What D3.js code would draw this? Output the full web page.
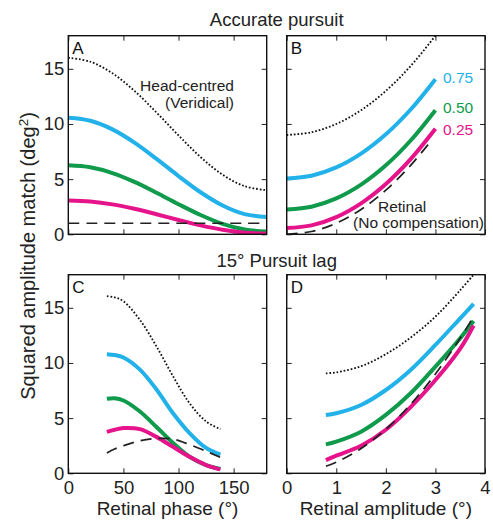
<!DOCTYPE html>
<html>
<head>
<meta charset="utf-8">
<script src="https://cdn.jsdelivr.net/npm/d3@7"></script>
<style>
  body { margin: 0; background: #fff; }
  svg { display: block; }
</style>
</head>
<body>
<div id="chart"></div>
<script>
// --- Data ---
// Panel A (accurate pursuit, vs retinal phase)
const phaseA = [0, 20, 40, 60, 80, 100, 120, 140, 160, 180];
const headA = [16, 15.64, 14.6, 13, 11.04, 8.96, 7, 5.4, 4.36, 4];
const g75A = [10.56, 10.29, 9.51, 8.31, 6.84, 5.28, 3.81, 2.61, 1.83, 1.56];
const g50A = [6.25, 6.07, 5.55, 4.75, 3.77, 2.73, 1.75, 0.95, 0.43, 0.25];
const g25A = [3.06, 2.97, 2.71, 2.31, 1.82, 1.3, 0.81, 0.41, 0.15, 0.06];
const retA = [1, 1, 1, 1, 1, 1, 1, 1, 1, 1];

// Panel B (accurate pursuit, vs retinal amplitude)
const ampB = [0, 0.5, 1, 1.5, 2, 2.5, 3];
const headB = [9, 9.25, 10, 11.25, 13, 15.25, 18];
const g75B = [5.06, 5.31, 6.06, 7.31, 9.06, 11.31, 14.06];
const g50B = [2.25, 2.5, 3.25, 4.5, 6.25, 8.5, 11.25];
const g25B = [0.56, 0.81, 1.56, 2.81, 4.56, 6.81, 9.56];
const ampRetB = [0, 0.5, 1, 1.5, 2, 2.5, 2.9];
const retB = [0, 0.25, 1, 2.25, 4, 6.25, 8.4];

// Panel C (15 deg pursuit lag, vs retinal phase)
const phaseC = [35, 42, 50, 65, 80, 95, 110, 125, 138];
const headC = [16.05, 15.95, 15.6, 13.9, 11.5, 8.8, 6.35, 4.7, 4.0];
const g75C = [10.8, 10.72, 10.5, 9.4, 7.6, 5.45, 3.65, 2.3, 1.7];
const g50C = [6.75, 6.8, 6.6, 5.6, 4.2, 2.75, 1.5, 0.75, 0.4];
const g25C = [3.75, 3.95, 4.1, 4.0, 3.3, 2.4, 1.5, 0.75, 0.35];
const retC = [1.85, 2.2, 2.5, 2.95, 3.15, 3.1, 2.6, 2.0, 1.45];

// Panel D (15 deg pursuit lag, vs retinal amplitude)
const ampD = [0.79, 1, 1.5, 2, 2.5, 3, 3.5, 3.77];
const headD = [9.05, 9.15, 9.7, 10.8, 12.3, 14.2, 16.6, 18];
const g75D = [5.29, 5.44, 6.19, 7.55, 9.37, 11.63, 14.05, 15.35];
const g50D = [2.62, 2.87, 3.77, 5.29, 7.25, 9.67, 12.24, 13.8];
const g25D = [1.2, 1.6, 2.5, 3.95, 6.0, 8.45, 11.3, 13.4];
const retD = [0.64, 1, 2.25, 4, 6.25, 9, 12.25, 14.2];

// Ticks and labels
const phaseTicks = [0, 50, 100, 150];
const ampTicks = [0, 1, 2, 3, 4];
const yTicks = [0, 5, 10, 15];
const gainLabels = ["0.75", "0.50", "0.25"];

// --- Styles ---
const font = "'Liberation Sans', Arial, Helvetica, sans-serif";
const cyan = "#22b2e9", green = "#0f9a4c", magenta = "#e5148b";
const styles = {
    head: { color: "#111", width: 1.8, dash: "1.7,1.9" },
    g75: { color: cyan, width: 4 },
    g50: { color: green, width: 4 },
    g25: { color: magenta, width: 4 },
    ret: { color: "#222", width: 1.7, dash: "11,7" }
};

const W = 493, H = 520;
const svg = d3.select("#chart").append("svg")
    .attr("width", W)
    .attr("height", H)
    .style("font-family", font);

const xPhase = d3.scaleLinear().domain([0, 180]).range([68.3, 266.7]);
const xAmp = d3.scaleLinear().domain([0, 4]).range([286.7, 485]);
const yTop = d3.scaleLinear().domain([0, 18]).range([234.3, 35.7]);
const yBot = d3.scaleLinear().domain([0, 18]).range([473.3, 274.7]);

function drawPanel(x, y, xt, opts) {
    const g = svg.append("g");
    const [x0, x1] = x.range();
    const [y0, y1] = y.range();
    const tick = 5;

    // inward ticks on all four sides
    const left = g.append("g").attr("transform", `translate(${x0},0)`)
        .call(d3.axisLeft(y).tickValues(yTicks).tickSize(-tick).tickPadding(4)
            .tickFormat(opts.yLabels ? d3.format("d") : ""));
    const right = g.append("g").attr("transform", `translate(${x1},0)`)
        .call(d3.axisRight(y).tickValues(yTicks).tickSize(-tick).tickFormat(""));
    const bottom = g.append("g").attr("transform", `translate(0,${y0})`)
        .call(d3.axisBottom(x).tickValues(xt).tickSize(-tick).tickPadding(8)
            .tickFormat(opts.xLabels ? d3.format("d") : ""));
    const top = g.append("g").attr("transform", `translate(0,${y1})`)
        .call(d3.axisTop(x).tickValues(xt).tickSize(-tick).tickFormat(""));

    [left, right, bottom, top].forEach(a => {
        a.select(".domain").remove();
        a.selectAll("line").attr("stroke", "#222").attr("stroke-width", 1);
        a.selectAll("text").attr("font-family", font).attr("font-size", 18.5).attr("fill", "#222");
    });

    // lines
    const clipId = "clip" + opts.letter;
    g.append("clipPath").attr("id", clipId)
        .append("rect").attr("x", x0).attr("y", y1).attr("width", x1 - x0).attr("height", y0 - y1);

    const line = d3.line()
        .x(d => x(d[0]))
        .y(d => y(d[1]))
        .curve(d3.curveCatmullRom.alpha(0.5));

    const order = ["head", "g75", "g50", "g25", "ret"];
    order.forEach(key => {
        const s = opts.series[key];
        const st = styles[key];
        const pts = s.xs.map((v, i) => [v, s.ys[i]]);
        g.append("path")
            .attr("clip-path", `url(#${clipId})`)
            .attr("d", line(pts))
            .attr("fill", "none")
            .attr("stroke", st.color)
            .attr("stroke-width", st.width)
            .attr("stroke-dasharray", st.dash || null);
    });

    // box
    g.append("rect")
        .attr("x", x0).attr("y", y1)
        .attr("width", x1 - x0).attr("height", y0 - y1)
        .attr("fill", "none").attr("stroke", "#111").attr("stroke-width", 1.4);

    // panel letter
    g.append("text")
        .attr("x", x0 + 4).attr("y", y1 + 17.8)
        .attr("font-size", 17).attr("fill", "#111")
        .text(opts.letter);
    return g;
}

drawPanel(xPhase, yTop, phaseTicks, {
    letter: "A", yLabels: true, xLabels: false,
    series: {
        head: { xs: phaseA, ys: headA }, g75: { xs: phaseA, ys: g75A },
        g50: { xs: phaseA, ys: g50A }, g25: { xs: phaseA, ys: g25A },
        ret: { xs: phaseA, ys: retA }
    }
});
drawPanel(xAmp, yTop, ampTicks, {
    letter: "B", yLabels: false, xLabels: false,
    series: {
        head: { xs: ampB, ys: headB }, g75: { xs: ampB, ys: g75B },
        g50: { xs: ampB, ys: g50B }, g25: { xs: ampB, ys: g25B },
        ret: { xs: ampRetB, ys: retB }
    }
});
drawPanel(xPhase, yBot, phaseTicks, {
    letter: "C", yLabels: true, xLabels: true,
    series: {
        head: { xs: phaseC, ys: headC }, g75: { xs: phaseC, ys: g75C },
        g50: { xs: phaseC, ys: g50C }, g25: { xs: phaseC, ys: g25C },
        ret: { xs: phaseC, ys: retC }
    }
});
drawPanel(xAmp, yBot, ampTicks, {
    letter: "D", yLabels: false, xLabels: true,
    series: {
        head: { xs: ampD, ys: headD }, g75: { xs: ampD, ys: g75D },
        g50: { xs: ampD, ys: g50D }, g25: { xs: ampD, ys: g25D },
        ret: { xs: ampD, ys: retD }
    }
});

// --- Annotations ---
const ann = 15.5;
svg.append("text").attr("x", 234).attr("y", 90.5).attr("text-anchor", "end")
    .attr("font-size", ann).attr("fill", "#222").text("Head-centred");
svg.append("text").attr("x", 234).attr("y", 107.5).attr("text-anchor", "end")
    .attr("font-size", ann).attr("fill", "#222").text("(Veridical)");
svg.append("text").attr("x", 378).attr("y", 211.5)
    .attr("font-size", ann).attr("fill", "#222").text("Retinal");
svg.append("text").attr("x", 484).attr("y", 227.5).attr("text-anchor", "end")
    .attr("font-size", ann).attr("fill", "#222").text("(No compensation)");

// gain labels next to the B curve ends
const gainColors = [cyan, green, magenta];
const gainY = [83.3, 113.3, 135.2];
gainLabels.forEach((t, i) => {
    svg.append("text").attr("x", 443).attr("y", gainY[i])
        .attr("font-size", ann).attr("fill", gainColors[i]).text(t);
});

// --- Titles and axis labels ---
svg.append("text").attr("x", 276.7).attr("y", 25.5).attr("text-anchor", "middle")
    .attr("font-size", 18.5).attr("fill", "#222").text("Accurate pursuit");
svg.append("text").attr("x", 276.7).attr("y", 266.5).attr("text-anchor", "middle")
    .attr("font-size", 18.5).attr("fill", "#222").text("15° Pursuit lag");

svg.append("text").attr("x", 167.5).attr("y", 515).attr("text-anchor", "middle")
    .attr("font-size", 19).attr("fill", "#222").text("Retinal phase (°)");
svg.append("text").attr("x", 385.8).attr("y", 515).attr("text-anchor", "middle")
    .attr("font-size", 19).attr("fill", "#222").text("Retinal amplitude (°)");

const yl = svg.append("text")
    .attr("transform", "translate(35,256) rotate(-90)")
    .attr("text-anchor", "middle")
    .attr("font-size", 20).attr("fill", "#222");
yl.append("tspan").text("Squared amplitude match (deg");
yl.append("tspan").attr("dy", -7.5).attr("font-size", 13.5).text("2");
yl.append("tspan").attr("dy", 7.5).text(")");
</script>
</body>
</html>
